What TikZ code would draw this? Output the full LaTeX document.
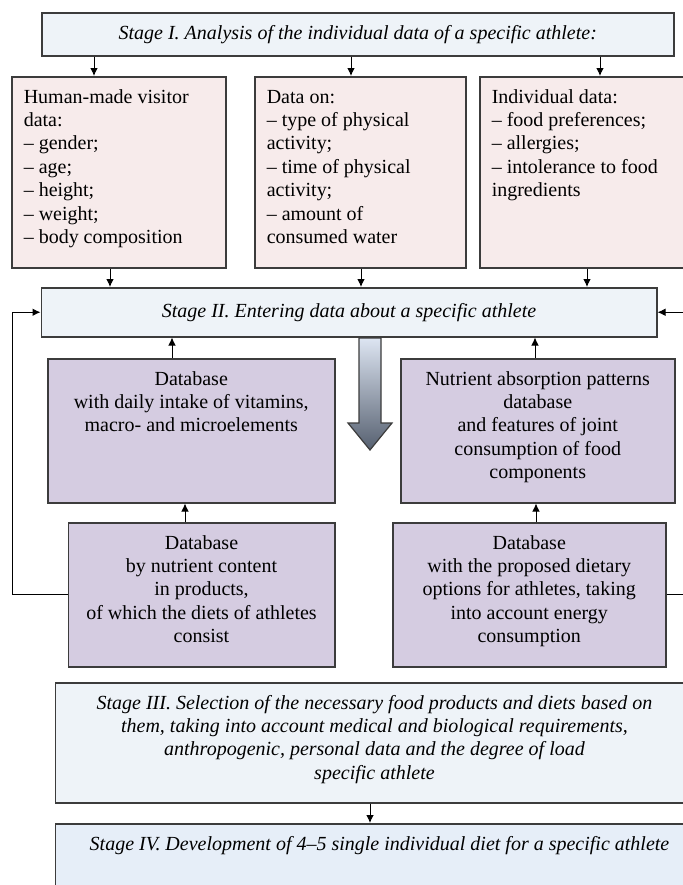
\documentclass[tikz,border=0pt]{standalone}
\usepackage{fontspec}
\setmainfont{Liberation Serif}
\usetikzlibrary{arrows.meta}
\definecolor{stagecol}{HTML}{EEF3F8}
\definecolor{stagelast}{HTML}{E6EEF8}
\definecolor{pinkcol}{HTML}{F7EBEB}
\definecolor{dbcol}{HTML}{D5CCE1}
\definecolor{linecol}{HTML}{3C3C3C}
\definecolor{arrtop}{HTML}{DDE5F2}
\definecolor{arrbot}{HTML}{566070}
\newcommand{\listtext}[3]{\parbox[c][#1][t]{#2}{\raggedright\strut #3}}
\newcommand{\dbtext}[3]{\parbox[c][#1][t]{#2}{\centering\strut #3}}
\tikzset{
    stagenode/.style={rectangle, draw=linecol, fill=stagecol, line width=0.75pt, anchor=north west, inner sep=0pt, font=\fontsize{10}{11.7}\selectfont\itshape, align=center},
    pinknode/.style={rectangle, draw=linecol, fill=pinkcol, line width=0.75pt, anchor=north west, inner xsep=6pt, inner ysep=5pt},
    dbnode/.style={rectangle, draw=linecol, fill=dbcol, line width=0.75pt, anchor=north west, inner xsep=2pt, inner ysep=5pt},
    myarrow/.style={-{Latex[length=4pt, width=3.8pt]}, line width=0.5pt, draw=black}
}
\begin{document}
\begin{tikzpicture}[x=0.5pt, y=-0.5pt, font=\fontsize{10}{11.7}\selectfont]
    \useasboundingbox (0,0) rectangle (683,885);

        % ------------------
        % nodes
        % ------------------

        \node[stagenode, minimum width=316pt, minimum height=21.5pt] (stage1) at (41,12) {Stage I. Analysis of the individual data of a specific athlete:};

        \node[pinknode] (visitor) at (11,76) {\listtext{85.5pt}{95pt}{Human-made visitor\\ data:\\ -- gender;\\ -- age;\\ -- height;\\ -- weight;\\ -- body composition}};
        \node[pinknode] (activity) at (254,76) {\listtext{85.5pt}{93.5pt}{Data on:\\ -- type of physical\\ activity;\\ -- time of physical\\ activity;\\ -- amount of\\ consumed water}};
        \node[pinknode] (personal) at (479,76) {\listtext{85.5pt}{94.5pt}{Individual data:\\ -- food preferences;\\ -- allergies;\\ -- intolerance to food\\ ingredients}};

        \node[stagenode, minimum width=307.75pt, minimum height=24.5pt] (stage2) at (40.5,287) {Stage II. Entering data about a specific athlete};

        \node[dbnode] (intake) at (47,358) {\dbtext{62pt}{139.5pt}{Database\\ with daily intake of vitamins,\\ macro- and microelements}};
        \node[dbnode] (absorption) at (400,358) {\dbtext{62pt}{133pt}{Nutrient absorption patterns\\ database\\ and features of joint\\ consumption of food\\ components}};

        \node[dbnode] (content) at (67.5,522) {\dbtext{62pt}{129.25pt}{Database\\ by nutrient content\\ in products,\\ of which the diets of athletes\\ consist}};
        \node[dbnode] (options) at (392,522) {\dbtext{62pt}{132.5pt}{Database\\ with the proposed dietary\\ options for athletes, taking\\ into account energy\\ consumption}};

        \node[stagenode, inner ysep=5pt] (stage3) at (54.5,682) {\dbtext{50pt}{319.25pt}{Stage III. Selection of the necessary food products and diets based on\\ them, taking into account medical and biological requirements,\\ anthropogenic, personal data and the degree of load\\ specific athlete}};
        \node[stagenode, fill=stagelast, inner ysep=5pt] (stage4) at (54.5,823) {\dbtext{35pt}{324.25pt}{Stage IV. Development of 4--5 single individual diet for a specific athlete}};

        \coordinate (loopL) at (12,0);
        \coordinate (loopR) at (690,0);

        % ------------------
        % arrows
        % ------------------

        \foreach \n/\x in {visitor/94, activity/351, personal/600}
            \draw[myarrow] (stage1.south -| \x,0) -- (\n.north -| \x,0);

        \foreach \n/\x in {visitor/110, activity/361, personal/587}
            \draw[myarrow] (\n.south -| \x,0) -- (stage2.north -| \x,0);

        \draw[myarrow] (intake.north -| 172,0) -- (stage2.south -| 172,0);
        \draw[myarrow] (absorption.north -| 535,0) -- (stage2.south -| 535,0);

        \draw[myarrow] (content.north -| 185,0) -- (intake.south -| 185,0);
        \draw[myarrow] (options.north -| 536,0) -- (absorption.south -| 536,0);

        \draw[myarrow] (content.west) -- (content.west -| loopL) |- (stage2.west);
        \draw[myarrow] (options.east) -- (options.east -| loopR) |- (stage2.east);

        \draw[myarrow] (stage3.south -| 370,0) -- (stage4.north -| 370,0);

        % big arrow
        \shade[top color=arrtop, bottom color=arrbot, draw=linecol, line width=0.6pt]
            (359,338) -- (381,338) -- (381,423) -- (392,423) -- (370,450) -- (348,423) -- (359,423) -- cycle;

\end{tikzpicture}
\end{document}
